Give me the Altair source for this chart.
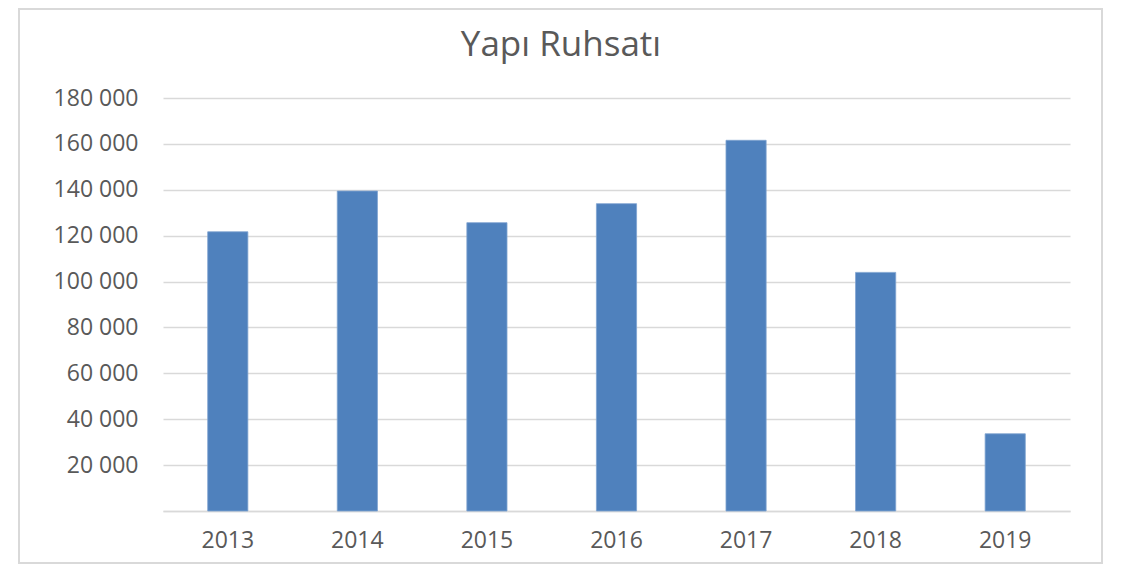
import altair as alt
import pandas as pd

years = ["2013", "2014", "2015", "2016", "2017", "2018", "2019"]
permits = [121700, 139450, 125670, 133950, 161560, 104000, 33660]
y_ticks = [0, 20000, 40000, 60000, 80000, 100000, 120000, 140000, 160000, 180000]
title_text = "Yapı Ruhsatı"

df = pd.DataFrame({"year": years, "value": permits})
title_df = pd.DataFrame({"t": [title_text]})

FONT = "Open Sans"
GRAY = "#595959"
LINE = "#d9d9d9"

bars = alt.Chart(df).mark_bar(color="#4F81BD", stroke="#7FA3D0", strokeWidth=0.8).encode(
    x=alt.X(
        "year:O",
        sort=years,
        title=None,
        scale=alt.Scale(paddingInner=0.69, paddingOuter=0.345),
        axis=alt.Axis(
            labelAngle=0,
            labelFont=FONT,
            labelFontSize=23,
            labelColor=GRAY,
            labelPadding=18,
            ticks=False,
            domainColor=LINE,
            domainWidth=1.5,
            grid=False,
        ),
    ),
    y=alt.Y(
        "value:Q",
        title=None,
        scale=alt.Scale(domain=[0, 180000], nice=False),
        axis=alt.Axis(
            values=y_ticks,
            labelExpr="datum.value == 0 ? '' : format(datum.value / 1000, 'd') + ' 000'",
            labelFont=FONT,
            labelFontSize=23,
            labelColor=GRAY,
            labelPadding=25,
            ticks=False,
            domain=False,
            gridColor=LINE,
            gridWidth=1.5,
        ),
    ),
)

frame = alt.Chart(df).mark_rect(fill=None, stroke=LINE, strokeWidth=2).encode(
    x=alt.value(-144), x2=alt.value(939), y=alt.value(-89), y2=alt.value(465)
)

title = alt.Chart(title_df).mark_text(
    font=FONT, fontSize=35, color=GRAY, align="center", baseline="alphabetic"
).encode(text="t:N", x=alt.value(398), y=alt.value(-42))

chart = alt.layer(frame, bars, title).properties(
    width=907,
    height=413,
    autosize=alt.AutoSizeParams(type="none"),
    padding={"left": 155, "top": 90, "right": 34, "bottom": 55},
).configure_view(stroke=None)

chart.save("out.html", embed_options={"renderer": "svg", "actions": False})
